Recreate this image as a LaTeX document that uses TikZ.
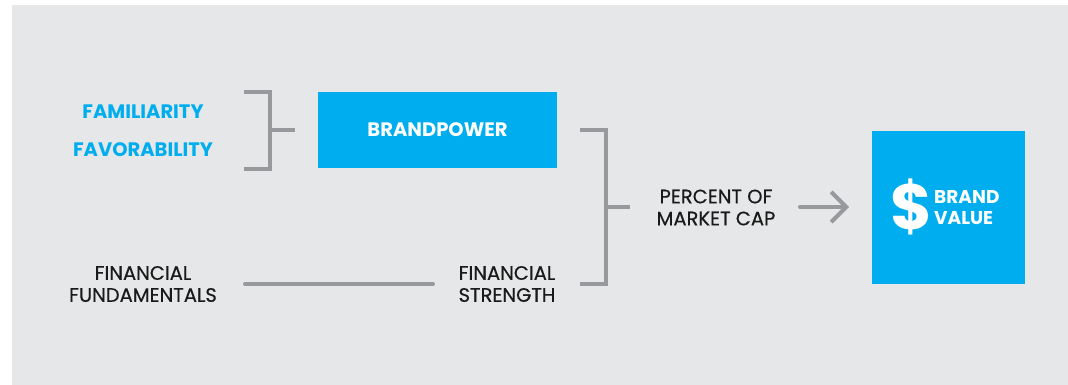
\documentclass[tikz,border=0pt]{standalone}
\usepackage{fontspec}
\setmainfont{Poppins}
\newfontfamily\medfont{Poppins}[FakeBold=0.5]
\usetikzlibrary{arrows.meta}
\definecolor{bg}{HTML}{E6E7E9}
\definecolor{cyanb}{HTML}{00AEEF}
\definecolor{ln}{HTML}{98999C}
\definecolor{tx}{HTML}{1A1A1A}
\tikzset{
  lbl/.style={text=tx, align=center, font=\medfont\fontsize{19.5}{22}\selectfont, inner sep=0pt},
  blbl/.style={text=cyanb, align=center, font=\bfseries\fontsize{19.5}{22}\selectfont, inner sep=0pt},
  bluebox/.style={fill=cyanb, draw=none, inner sep=0pt},
  wlbl/.style={text=white, align=left, font=\bfseries\fontsize{19.5}{22}\selectfont, inner sep=0pt},
  conn/.style={draw=ln, line width=4pt, line cap=round},
}
\begin{document}
\begin{tikzpicture}[x=1pt,y=-1pt]
\useasboundingbox (0,0) rectangle (1068,385);
\fill[bg] (12,5) rectangle (1068,385);

% left labels
\node[blbl] (fam) at (143,112) {FAMILIARITY};
\node[blbl] (fav) at (143,150) {FAVORABILITY};
\node[lbl] (ff) at (143,284) {FINANCIAL\\FUNDAMENTALS};
\node[lbl] (fs) at (507,284) {FINANCIAL\\STRENGTH};
\node[lbl] (pct) at (716,207.5) {PERCENT OF\\MARKET CAP};

% boxes
\node[bluebox, minimum width=239pt, minimum height=76pt] (bp) at (437.5,130) {};
\node[wlbl] (bpt) at (bp.center) {BRANDPOWER};
\node[bluebox, minimum width=153pt, minimum height=153pt] (bv) at (948.5,207.5) {};
\node[text=white, font=\bfseries\fontsize{64}{64}\selectfont, inner sep=0pt] (dol) at (912,207) {\$};
\node[wlbl, anchor=west, font=\bfseries\fontsize{18.5}{21}\selectfont] (bvt) at (934,207.5) {BRAND\\VALUE};

% bracket 1
\coordinate (b1t) at (244,92);
\coordinate (b1b) at (244,169);
\coordinate (b1m) at (270,130);
\coordinate (b1s) at (295,130);
\draw[conn, line cap=butt, line join=miter] (b1t) -- (270,92) -- (270,169) -- (b1b);
\draw[conn, line cap=butt] (b1m) -- (b1s);

% bracket 2
\coordinate (b2t) at (580,130);
\coordinate (b2b) at (580,284);
\coordinate (b2m) at (606,207);
\coordinate (b2s) at (630,207);
\draw[conn, line cap=butt, line join=miter] (b2t) -- (606,130) -- (606,284) -- (b2b);
\draw[conn, line cap=butt] (b2m) -- (b2s);

% financial line
\coordinate (fl1) at (245,284);
\coordinate (fl2) at (433,284);
\draw[conn] (fl1) -- (fl2);

% arrow
\coordinate (a1) at (800,207);
\coordinate (a2) at (849,207);
\draw[conn, -{Straight Barb[length=15pt,width=30pt,line width=4pt]}] (a1) -- (a2);
\end{tikzpicture}
\end{document}
